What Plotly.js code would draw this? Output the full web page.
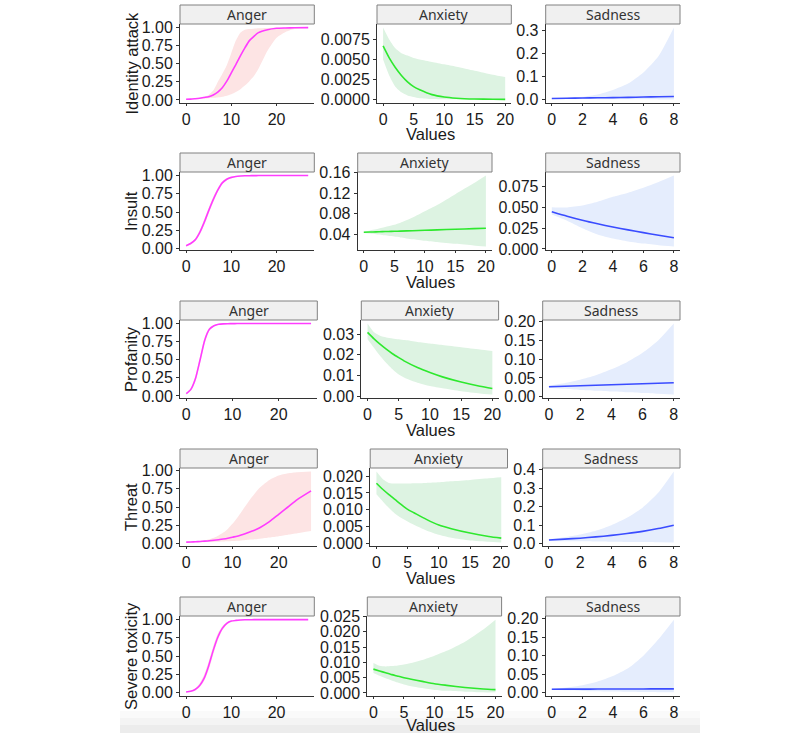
<!DOCTYPE html>
<html>
<head>
<meta charset="utf-8">
<script src="https://cdn.plot.ly/plotly-3.0.1.min.js"></script>
<style>
  body { margin: 0; background: #fff; }
  #chart { width: 800px; height: 733px; }
</style>
</head>
<body>
<div id="chart"></div>
<script>
// --- DATA ---
const emotions = ['Anger', 'Anxiety', 'Sadness'];
const toxicity = ['Identity attack', 'Insult', 'Profanity', 'Threat', 'Severe toxicity'];

const angerX = [0, 1, 2, 3, 4, 5, 6, 7, 8, 9, 10, 11, 12, 13, 14, 15, 16, 18, 20, 22, 24, 27];
const anxietyX = [0, 1, 2, 3, 4, 5, 6, 8, 10, 12, 15, 18, 20];
const sadnessX = [0, 1, 2, 3, 4, 5, 6, 7, 8];

// one row per toxicity type, in the order of `toxicity`
const angerFit = [
  [0.01, 0.012, 0.018, 0.025, 0.035, 0.045, 0.07, 0.11, 0.17, 0.26, 0.375, 0.49, 0.61, 0.72, 0.82, 0.88, 0.93, 0.97, 0.99, 0.995, 0.998, 1.0],
  [0.04, 0.07, 0.12, 0.22, 0.36, 0.52, 0.67, 0.8, 0.9, 0.95, 0.975, 0.988, 0.994, 0.997, 0.998, 0.999, 1.0, 1.0, 1.0, 1.0, 1.0, 1.0],
  [0.03, 0.09, 0.24, 0.5, 0.77, 0.92, 0.97, 0.99, 0.996, 0.998, 0.999, 1.0, 1.0, 1.0, 1.0, 1.0, 1.0, 1.0, 1.0, 1.0, 1.0, 1.0],
  [0.02, 0.022, 0.025, 0.029, 0.033, 0.038, 0.045, 0.053, 0.062, 0.073, 0.087, 0.1, 0.12, 0.14, 0.165, 0.19, 0.22, 0.3, 0.4, 0.5, 0.6, 0.72],
  [0.01, 0.02, 0.045, 0.1, 0.2, 0.37, 0.58, 0.76, 0.88, 0.95, 0.98, 0.99, 0.996, 0.998, 0.999, 1.0, 1.0, 1.0, 1.0, 1.0, 1.0, 1.0]
];
const angerLow = [
  [0.008, 0.009, 0.012, 0.015, 0.02, 0.025, 0.03, 0.035, 0.045, 0.06, 0.08, 0.11, 0.15, 0.2, 0.26, 0.33, 0.43, 0.68, 0.86, 0.94, 0.98, 0.995],
  [0.03, 0.055, 0.1, 0.19, 0.32, 0.48, 0.63, 0.77, 0.88, 0.935, 0.96, 0.98, 0.988, 0.993, 0.996, 0.998, 0.999, 0.999, 1.0, 1.0, 1.0, 1.0],
  [0.02, 0.07, 0.2, 0.45, 0.73, 0.9, 0.96, 0.985, 0.993, 0.997, 0.998, 0.999, 1.0, 1.0, 1.0, 1.0, 1.0, 1.0, 1.0, 1.0, 1.0, 1.0],
  [0.015, 0.016, 0.017, 0.018, 0.019, 0.02, 0.022, 0.024, 0.027, 0.03, 0.034, 0.038, 0.043, 0.048, 0.054, 0.06, 0.067, 0.082, 0.1, 0.12, 0.14, 0.17],
  [0.006, 0.013, 0.032, 0.075, 0.16, 0.31, 0.52, 0.71, 0.85, 0.93, 0.97, 0.985, 0.993, 0.996, 0.998, 0.999, 1.0, 1.0, 1.0, 1.0, 1.0, 1.0]
];
const angerHigh = [
  [0.012, 0.015, 0.022, 0.03, 0.045, 0.07, 0.13, 0.25, 0.36, 0.48, 0.65, 0.82, 0.93, 0.97, 0.98, 0.985, 0.99, 0.995, 0.998, 0.999, 1.0, 1.0],
  [0.05, 0.085, 0.14, 0.25, 0.4, 0.56, 0.71, 0.83, 0.92, 0.965, 0.98, 0.99, 0.995, 0.998, 0.999, 1.0, 1.0, 1.0, 1.0, 1.0, 1.0, 1.0],
  [0.04, 0.11, 0.28, 0.55, 0.81, 0.94, 0.98, 0.995, 0.998, 0.999, 1.0, 1.0, 1.0, 1.0, 1.0, 1.0, 1.0, 1.0, 1.0, 1.0, 1.0, 1.0],
  [0.022, 0.025, 0.03, 0.035, 0.045, 0.06, 0.08, 0.11, 0.15, 0.2, 0.27, 0.35, 0.44, 0.53, 0.62, 0.7, 0.77, 0.87, 0.93, 0.96, 0.975, 0.985],
  [0.015, 0.03, 0.06, 0.13, 0.25, 0.43, 0.64, 0.81, 0.91, 0.965, 0.985, 0.995, 0.998, 0.999, 1.0, 1.0, 1.0, 1.0, 1.0, 1.0, 1.0, 1.0]
];

const anxietyFit = [
  [0.0067, 0.0052, 0.004, 0.003, 0.0022, 0.0016, 0.0012, 0.0006, 0.0003, 0.00015, 0.00005, 0.00002, 0.00001],
  [0.0445, 0.0449, 0.0452, 0.0456, 0.046, 0.0463, 0.0467, 0.0474, 0.0482, 0.049, 0.0502, 0.0514, 0.0523],
  [0.0308, 0.0278, 0.0251, 0.0227, 0.0205, 0.0186, 0.0168, 0.0138, 0.0114, 0.0093, 0.0068, 0.0048, 0.0037],
  [0.0179, 0.0161, 0.0145, 0.013, 0.0115, 0.0101, 0.0091, 0.0071, 0.0054, 0.0043, 0.003, 0.002, 0.0015],
  [0.0078, 0.0072, 0.0066, 0.006, 0.0055, 0.005, 0.0046, 0.0038, 0.003, 0.0025, 0.0018, 0.0013, 0.0011]
];
const anxietyLow = [
  [0.005, 0.003, 0.0016, 0.0009, 0.0005, 0.0003, 0.00015, 0.00005, 0.00002, 0.00001, 0, 0, 0],
  [0.043, 0.042, 0.0405, 0.039, 0.0375, 0.036, 0.0345, 0.031, 0.028, 0.0255, 0.022, 0.019, 0.017],
  [0.0275, 0.0235, 0.0195, 0.016, 0.013, 0.0105, 0.0088, 0.0065, 0.0049, 0.0038, 0.0024, 0.0013, 0.0008],
  [0.0146, 0.0125, 0.0105, 0.0088, 0.0075, 0.0065, 0.0055, 0.0038, 0.0025, 0.0016, 0.0008, 0.0004, 0.0002],
  [0.0065, 0.0056, 0.0048, 0.0041, 0.0034, 0.0028, 0.0023, 0.0016, 0.001, 0.0007, 0.0004, 0.0002, 0.0002]
];
const anxietyHigh = [
  [0.009, 0.0075, 0.0064, 0.0058, 0.0055, 0.0052, 0.005, 0.0047, 0.0044, 0.0041, 0.0036, 0.0031, 0.0028],
  [0.046, 0.048, 0.05, 0.053, 0.056, 0.059, 0.063, 0.073, 0.085, 0.097, 0.118, 0.139, 0.154],
  [0.0351, 0.031, 0.0292, 0.0284, 0.0279, 0.0275, 0.0271, 0.0262, 0.0254, 0.0247, 0.0236, 0.0225, 0.0218],
  [0.0214, 0.0192, 0.018, 0.0178, 0.0178, 0.0178, 0.0179, 0.018, 0.0182, 0.0185, 0.0189, 0.0194, 0.0197],
  [0.0098, 0.0089, 0.0087, 0.0088, 0.009, 0.0093, 0.0097, 0.0108, 0.0122, 0.0138, 0.0168, 0.0208, 0.024]
];

const sadnessFit = [
  [0.0045, 0.0055, 0.0065, 0.0075, 0.0085, 0.0095, 0.011, 0.012, 0.0135],
  [0.045, 0.0396, 0.0347, 0.0304, 0.0265, 0.023, 0.0197, 0.0166, 0.0135],
  [0.0267, 0.028, 0.0293, 0.0306, 0.032, 0.0333, 0.0346, 0.036, 0.0373],
  [0.02, 0.025, 0.03, 0.037, 0.045, 0.055, 0.067, 0.082, 0.1],
  [0.0095, 0.0096, 0.0097, 0.0099, 0.01, 0.0101, 0.0102, 0.0104, 0.0105]
];
const sadnessLow = [
  [0.003, 0.0025, 0.002, 0.0016, 0.0012, 0.001, 0.0008, 0.0006, 0.0005],
  [0.0415, 0.034, 0.025, 0.0175, 0.0125, 0.009, 0.0065, 0.0045, 0.003],
  [0.024, 0.021, 0.018, 0.016, 0.014, 0.012, 0.01, 0.008, 0.006],
  [0.015, 0.014, 0.013, 0.012, 0.011, 0.01, 0.009, 0.008, 0.007],
  [0.008, 0.0065, 0.005, 0.004, 0.003, 0.0024, 0.0018, 0.0014, 0.001]
];
const sadnessHigh = [
  [0.006, 0.008, 0.012, 0.022, 0.042, 0.07, 0.118, 0.19, 0.314],
  [0.0505, 0.0502, 0.0525, 0.057, 0.063, 0.068, 0.074, 0.081, 0.0887],
  [0.03, 0.036, 0.045, 0.057, 0.073, 0.092, 0.117, 0.15, 0.195],
  [0.025, 0.035, 0.05, 0.07, 0.1, 0.14, 0.195, 0.275, 0.39],
  [0.011, 0.014, 0.02, 0.03, 0.045, 0.066, 0.1, 0.145, 0.197]
];

const angerXTicks = [0, 10, 20];
const anxietyXTicks = [0, 5, 10, 15, 20];
const sadnessXTicks = [0, 2, 4, 6, 8];

// y tick spacing / label format, [anger, anxiety, sadness] per row
const yTickStep = [[0.25, 0.0025, 0.1], [0.25, 0.04, 0.025], [0.25, 0.01, 0.05], [0.25, 0.005, 0.1], [0.25, 0.005, 0.05]];
const yTickFormat = [['.2f', '.4f', '.1f'], ['.2f', '.2f', '.3f'], ['.2f', '.2f', '.2f'], ['.2f', '.3f', '.1f'], ['.2f', '.3f', '.2f']];

// --- PANEL GEOMETRY (pixels) ---
const W = 800, H = 733;
const rowPlot = [[24, 103], [172, 250], [320, 398], [468, 546], [616, 696]];
const stripH = 19;
const panelLeft = [[180, 377, 545.7], [180, 357.7, 545.7], [180, 361.3, 542.7], [180, 370.2, 542.7], [180, 367.3, 545.7]];
const panelW = [134.3, 134.3, 137.3, 137.3, 134.3];
const valuesY = [134, 282, 430, 578, 725];

const series = [
  { x: angerX, fit: angerFit, lo: angerLow, hi: angerHigh, xticks: angerXTicks, line: '#ff3cff', band: '#fde4e4' },
  { x: anxietyX, fit: anxietyFit, lo: anxietyLow, hi: anxietyHigh, xticks: anxietyXTicks, line: '#2ee82e', band: '#ddf3e2' },
  { x: sadnessX, fit: sadnessFit, lo: sadnessLow, hi: sadnessHigh, xticks: sadnessXTicks, line: '#3a4cff', band: '#e5edfd' }
];

const tickFont = { family: 'Liberation Sans, Arial, sans-serif', size: 16, color: '#1a1a1a' };
const axisCommon = {
  showline: true, linecolor: '#333', linewidth: 1,
  ticks: 'outside', ticklen: 3, tickcolor: '#333', tickwidth: 1,
  showgrid: false, zeroline: false, tickfont: tickFont, fixedrange: true
};

let traces = [];
let layout = {
  width: W, height: H,
  margin: { l: 0, r: 0, t: 0, b: 0 },
  paper_bgcolor: '#fff', plot_bgcolor: '#fff',
  showlegend: false,
  shapes: [], annotations: []
};

// soft grey band along the bottom edge
[[22, 0.02], [15, 0.025], [8, 0.03]].forEach(([h, a]) => {
  layout.shapes.push({
    type: 'rect', xref: 'paper', yref: 'paper', layer: 'below',
    x0: 120 / W, x1: 700 / W, y0: 0, y1: h / H,
    fillcolor: 'rgba(0,0,0,' + a + ')', line: { width: 0 }
  });
});

for (let r = 0; r < toxicity.length; r++) {
  const [top, bottom] = rowPlot[r];
  for (let c = 0; c < emotions.length; c++) {
    const k = r * 3 + c + 1;
    const xa = 'x' + (k > 1 ? k : '');
    const ya = 'y' + (k > 1 ? k : '');
    const s = series[c];
    const fit = s.fit[r], lo = s.lo[r], hi = s.hi[r];
    const lineShape = { shape: 'spline', smoothing: 0.6 };

    traces.push({ x: s.x, y: lo, xaxis: xa, yaxis: ya, mode: 'lines', hoverinfo: 'skip',
      line: Object.assign({ width: 0, color: 'rgba(0,0,0,0)' }, lineShape) });
    traces.push({ x: s.x, y: hi, xaxis: xa, yaxis: ya, mode: 'lines', hoverinfo: 'skip',
      fill: 'tonexty', fillcolor: s.band,
      line: Object.assign({ width: 0, color: 'rgba(0,0,0,0)' }, lineShape) });
    traces.push({ x: s.x, y: fit, xaxis: xa, yaxis: ya, mode: 'lines', hoverinfo: 'skip',
      line: Object.assign({ width: 1.6, color: s.line }, lineShape) });

    // ggplot-style 5% expansion
    const yMin = Math.min(...lo, ...fit), yMax = Math.max(...hi, ...fit);
    const yPad = 0.05 * (yMax - yMin);
    const xMin = s.x[0], xMax = s.x[s.x.length - 1];
    const xPad = 0.05 * (xMax - xMin);

    const left = panelLeft[r][c], right = left + panelW[r];

    layout['xaxis' + (k > 1 ? k : '')] = Object.assign({}, axisCommon, {
      domain: [left / W, right / W], anchor: ya,
      range: [xMin - xPad, xMax + xPad], tickvals: s.xticks, ticklen: 2
    });
    layout['yaxis' + (k > 1 ? k : '')] = Object.assign({}, axisCommon, {
      domain: [1 - bottom / H, 1 - top / H], anchor: xa,
      range: [yMin - yPad, yMax + yPad],
      tick0: 0, dtick: yTickStep[r][c], tickformat: yTickFormat[r][c]
    });

    // facet strip
    layout.shapes.push({
      type: 'rect', xref: 'paper', yref: 'paper',
      x0: left / W, x1: right / W, y0: 1 - top / H, y1: 1 - (top - stripH) / H,
      fillcolor: '#f0f0f0', line: { color: '#808080', width: 1 }
    });
    layout.annotations.push({
      xref: 'paper', yref: 'paper', x: (left + right) / 2 / W, y: 1 - (top - stripH / 2) / H,
      text: emotions[c], showarrow: false, xanchor: 'center', yanchor: 'middle',
      font: { family: 'Noto Sans, sans-serif', size: 14, color: '#333' }
    });
  }

  // row title on the left and shared x title
  layout.annotations.push({
    xref: 'paper', yref: 'paper', x: 131 / W, y: 1 - (top + bottom) / 2 / H,
    text: toxicity[r], textangle: -90, showarrow: false, xanchor: 'center', yanchor: 'middle',
    font: { family: 'Liberation Sans, Arial, sans-serif', size: 16.5, color: '#1a1a1a' }
  });
  layout.annotations.push({
    xref: 'paper', yref: 'paper', x: 430 / W, y: 1 - valuesY[r] / H,
    text: 'Values', showarrow: false, xanchor: 'center', yanchor: 'middle',
    font: { family: 'Liberation Sans, Arial, sans-serif', size: 16.5, color: '#1a1a1a' }
  });
}

Plotly.newPlot('chart', traces, layout, { staticPlot: true });
</script>
</body>
</html>
